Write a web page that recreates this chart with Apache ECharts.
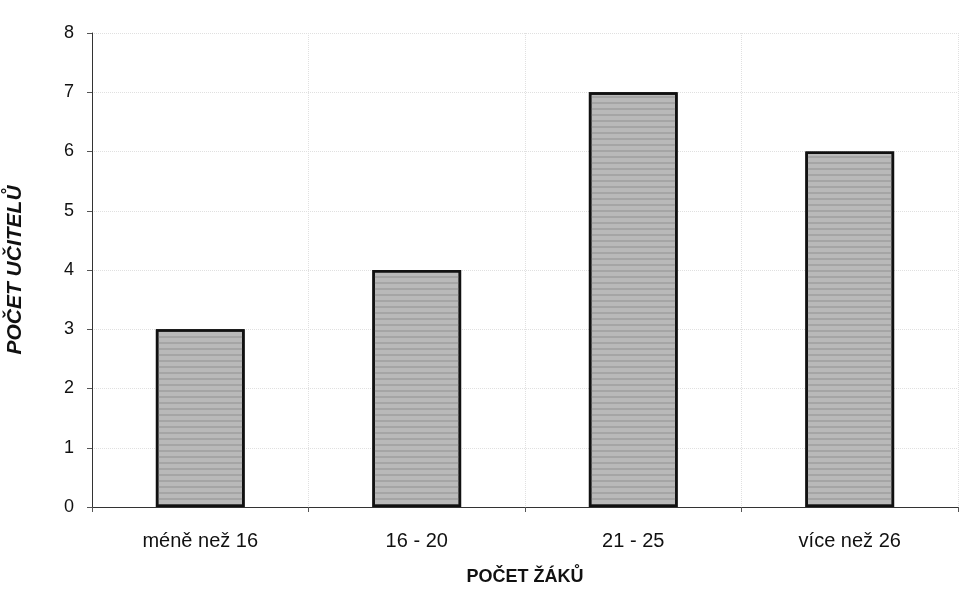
<!DOCTYPE html>
<html><head><meta charset="utf-8">
<script src="https://cdn.jsdelivr.net/npm/echarts@6/dist/echarts.min.js"></script>
<style>html,body{margin:0;padding:0;background:#fff}#c{width:964px;height:589px}</style>
</head><body><div id="c"></div>
<script>
const categories = ['méně než 16', '16 - 20', '21 - 25', 'více než 26'];
const teachers = [3, 4, 7, 6];
const yTicks = [0, 1, 2, 3, 4, 5, 6, 7, 8];

const chart = echarts.init(document.getElementById('c'));
chart.setOption({
  animation: false,
  backgroundColor: '#ffffff',
  grid: { left: 92, right: 6, top: 33, bottom: 82, outerBoundsMode: 'none', containLabel: false },
  xAxis: {
    type: 'category',
    data: categories,
    name: 'POČET ŽÁKŮ',
    nameLocation: 'middle',
    nameGap: 61,
    nameTextStyle: { fontFamily: 'Liberation Sans, Arial', fontSize: 18, fontWeight: 'bold', color: '#111' },
    axisLine: { lineStyle: { color: '#333', width: 1 } },
    axisTick: { show: true, alignWithLabel: false, length: 5, lineStyle: { color: '#555' } },
    axisLabel: { fontFamily: 'Liberation Sans, Arial', fontSize: 20, color: '#111', margin: 24 },
    splitLine: { show: true, lineStyle: { color: '#e0e0e0', width: 1, type: 'dotted' } }
  },
  yAxis: {
    type: 'value',
    min: 0, max: 8, interval: 1,
    name: 'POČET UČITELŮ',
    nameLocation: 'middle',
    nameGap: 66,
    nameRotate: 90,
    nameTextStyle: { fontFamily: 'Liberation Sans, Arial', fontSize: 21, fontWeight: 'bold', fontStyle: 'italic', color: '#111' },
    axisLine: { show: true, lineStyle: { color: '#333', width: 1 } },
    axisTick: { show: true, length: 5, lineStyle: { color: '#555' } },
    axisLabel: { fontFamily: 'Liberation Sans, Arial', fontSize: 18, color: '#111', margin: 18,
      formatter: v => yTicks.includes(v) ? String(v) : '' },
    splitLine: { show: true, lineStyle: { color: '#e0e0e0', width: 1, type: 'dotted' } }
  },
  series: [{
    type: 'bar',
    data: teachers,
    barWidth: '41%',
    itemStyle: {
      color: '#b9b9b9',
      borderColor: '#111',
      borderWidth: 2.5,
      decal: { symbol: 'rect', dashArrayX: [1, 0], dashArrayY: [2, 4], rotation: 0, color: 'rgba(140,140,140,0.45)' }
    }
  }]
});
</script>
</body></html>
